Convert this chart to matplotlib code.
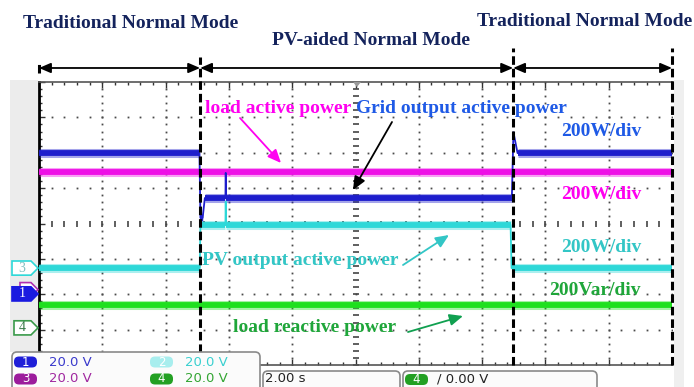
import numpy as np
import matplotlib
matplotlib.use("Agg")
import matplotlib.pyplot as plt
import matplotlib.transforms as mtransforms
from matplotlib.patches import FancyBboxPatch, Polygon, Rectangle

# ================================================================
# data (scope screen: 2.00 s/div, 10 x 8 div, values in div from bottom)
# ================================================================
mode_edges = [0.0, 5.09, 14.98, 20.0]
mode_names = ["Traditional Normal Mode", "PV-aided Normal Mode", "Traditional Normal Mode"]

grid_t = [0.0, 5.07, 5.10, 5.17, 5.24, 5.89, 5.90, 5.91, 14.94, 14.99, 15.12, 20.0]
grid_v = [5.99, 5.99, 4.16, 4.16, 4.72, 4.72, 5.43, 4.72, 4.72, 6.58, 5.99, 5.99]
load_t = [0.0, 20.0]
load_v = [5.46, 5.46]
pv_t = [0.0, 5.08, 5.10, 5.89, 5.90, 5.91, 14.90, 14.93, 20.0]
pv_v = [2.74, 2.74, 3.96, 3.96, 4.62, 3.96, 3.96, 2.74, 2.74]
react_t = [0.0, 20.0]
react_v = [1.70, 1.70]

marker_ch = ["3", "2", "1", "4"]
marker_v = [2.74, 2.13, 2.01, 1.05]

trace_names = ["load active power", "Grid output active power",
               "PV output active power", "load reactive power"]
scale_text = ["200W/div", "200W/div", "200W/div", "200Var/div"]

ch_names = ["1", "2", "3", "4"]
ch_volts = ["20.0 V", "20.0 V", "20.0 V", "20.0 V"]
timebase = "2.00 s"
trig_ch = "4"
trig_level = "0.00 V"

# ================================================================
# colours
# ================================================================
C_NAVY = "#14235c"
C_BLUE = "#1d1dcc"
C_BLUE_TX = "#1f5ae6"
C_MAG = "#ee10e6"
C_MAG_TX = "#ff00f0"
C_CYAN = "#2ed8d8"
C_CYAN_TX = "#33c6c6"
C_GREEN = "#1ee01e"
C_GREEN_TX = "#1fa63a"
C_DOT = "#4a4a4a"

SERIF = dict(family="Liberation Serif", fontweight="bold", fontsize=14)
NARROW = ["Liberation Sans Narrow", "DejaVu Sans"]

W, H = 694, 387
fig = plt.figure(figsize=(W / 100, H / 100), dpi=100)
fig.patch.set_facecolor("white")

# scope grid area (pixels 39..672 x 82..365)
ax = fig.add_axes([39 / W, (H - 365) / H, 633 / W, 283 / H], zorder=1)
ax.set_xlim(0, 20)
ax.set_ylim(0, 8)

# pixel overlay for all annotations
ov = fig.add_axes([0, 0, 1, 1], zorder=5)
ov.set_xlim(0, W)
ov.set_ylim(H, 0)
ov.axis("off")
ov.patch.set_alpha(0)

# ---- grid ----
yy = np.arange(0, 8.01, 0.2)
xx = np.arange(0, 20.01, 0.4)
for gx in [2, 4, 6, 8, 12, 14, 16, 18]:
    ax.plot(np.full(len(yy), gx), yy, ls="none", marker="s", ms=1.3, mew=0, color=C_DOT, zorder=1)
for gy in [1, 2, 3, 5, 6, 7]:
    ax.plot(xx, np.full(len(xx), gy), ls="none", marker="s", ms=1.3, mew=0, color=C_DOT, zorder=1)
ax.plot(np.full(len(yy), 10), yy, ls="none", marker="_", ms=4, mew=1.2, color="#444444", zorder=1)
ax.plot(xx, np.full(len(xx), 4), ls="none", marker="|", ms=4, mew=1.2, color="#444444", zorder=1)

ax.set_xticks(np.arange(0, 20.01, 2))
ax.set_xticks(xx, minor=True)
ax.set_yticks(np.arange(0, 8.01, 1))
ax.set_yticks(yy, minor=True)
ax.tick_params(which="both", direction="in", top=True, bottom=True, left=True, right=False,
               labelbottom=False, labelleft=False, color="#333333", width=1)
ax.tick_params(which="major", length=4)
ax.tick_params(which="minor", length=2.5)
ax.spines["right"].set_visible(False)
for s in ["top", "bottom"]:
    ax.spines[s].set_color("#555555")
    ax.spines[s].set_linewidth(1.2)
ax.spines["left"].set_color("black")
ax.spines["left"].set_linewidth(2)

# gray strip left of the screen and channel markers
ax.add_patch(Rectangle((10, 80), 28.5, 272, transform=ov.transData, clip_on=False,
                       color="#ececec", lw=0, zorder=0))
ax.add_patch(Rectangle((674, 80), 10, 307, transform=ov.transData, clip_on=False,
                       color="#efefef", lw=0, zorder=0))
mk_tr = mtransforms.blended_transform_factory(ov.transData, ax.transData)
mk_style = {
    "3": dict(fc="white", ec=C_CYAN, tc="#7fbfc0", x0=12),
    "2": dict(fc="white", ec="#b030b0", tc="#b030b0", x0=20),
    "1": dict(fc="#1a1ae0", ec="#1a1ae0", tc="white", x0=12),
    "4": dict(fc="white", ec="#3a9a4a", tc="#3a7a4a", x0=14),
}
h = 0.2
for ch, v in zip(marker_ch, marker_v):
    st = mk_style[ch]
    x0 = st["x0"]
    pts = [(x0, v - h), (31, v - h), (38, v), (31, v + h), (x0, v + h)]
    ax.add_patch(Polygon(pts, closed=True, transform=mk_tr, clip_on=False,
                         fc=st["fc"], ec=st["ec"], lw=1.2, zorder=3))
    if ch != "2":
        ax.text(22, v, ch, transform=mk_tr, ha="center", va="center", fontsize=10,
                color=st["tc"], family="Liberation Serif", clip_on=False, zorder=3)


# ---- traces ----
def draw_trace(t, v, color):
    ax.plot(t, v, color=color, lw=1.3, zorder=4)
    for i in range(len(t) - 1):
        if v[i] == v[i + 1]:
            ax.plot(t[i:i + 2], v[i:i + 2], color=color, lw=6.5, alpha=0.4,
                    solid_capstyle="butt", zorder=4)
            ax.plot(t[i:i + 2], v[i:i + 2], color=color, lw=4.2,
                    solid_capstyle="butt", zorder=4)


draw_trace(load_t, load_v, C_MAG)
draw_trace(grid_t, grid_v, C_BLUE)
draw_trace(pv_t, pv_v, C_CYAN)
draw_trace(react_t, react_v, C_GREEN)

# ---- mode boundaries and arrows ----
bt = mtransforms.blended_transform_factory(ax.transData, ax.transAxes)
tops = [1.071, 1.088, 1.120, 1.120]
bots = [1.032, 0.0, 0.0, 0.0]
for t, y1, y0 in zip(mode_edges, tops, bots):
    ax.plot([t, t], [y0, y1], transform=bt, clip_on=False, color="black", lw=2.2,
            dashes=(2.8, 1.3), zorder=6)
for t0, t1 in zip(mode_edges[:-1], mode_edges[1:]):
    ax.annotate("", xy=(t1, 1.0495), xytext=(t0, 1.0495), xycoords=bt, textcoords=bt,
                annotation_clip=False,
                arrowprops=dict(arrowstyle="<|-|>,head_length=0.7,head_width=0.3",
                                color="black", lw=1.3, shrinkA=0, shrinkB=0))

# mode titles
ov.text(131, 28, mode_names[0], ha="center", va="baseline", color=C_NAVY, **SERIF)
ov.text(371, 45, mode_names[1], ha="center", va="baseline", color=C_NAVY, **SERIF)
ov.text(585, 26, mode_names[2], ha="center", va="baseline", color=C_NAVY, **SERIF)

# trace labels
ov.text(205, 113, trace_names[0], ha="left", va="baseline", color=C_MAG_TX, **SERIF)
ov.text(356, 113, trace_names[1], ha="left", va="baseline", color=C_BLUE_TX, **SERIF)
ov.text(202, 265, trace_names[2], ha="left", va="baseline", color=C_CYAN_TX, **SERIF)
ov.text(233, 332, trace_names[3], ha="left", va="baseline", color=C_GREEN_TX, **SERIF)

ov.text(561, 136, scale_text[0], ha="left", va="baseline", color=C_BLUE_TX, **SERIF)
ov.text(561, 199, scale_text[1], ha="left", va="baseline", color=C_MAG_TX, **SERIF)
ov.text(561, 252, scale_text[2], ha="left", va="baseline", color=C_CYAN_TX, **SERIF)
ov.text(549, 295, scale_text[3], ha="left", va="baseline", color=C_GREEN_TX, **SERIF)

# label arrows
for tail, head, col in [((240, 118), (281, 163), C_MAG_TX),
                        ((392, 122), (353, 190), "black"),
                        ((403, 265), (449, 235), C_CYAN_TX),
                        ((408, 332), (463, 316), "#10a050")]:
    ov.annotate("", xy=head, xytext=tail,
                arrowprops=dict(arrowstyle="-|>,head_length=0.8,head_width=0.35",
                                color=col, lw=1.3, shrinkA=0, shrinkB=0))

# trigger position marker
ov.add_patch(Polygon([(353, 82), (361, 82), (357, 87)], closed=True, color="#9a9a9a", lw=0))

# ---- bottom readout panels ----
for x, y, w, hh in [(12, 352, 248, 45), (263, 371, 137, 30), (403, 371, 194, 30)]:
    ov.add_patch(FancyBboxPatch((x, y), w, hh, boxstyle="round,pad=0,rounding_size=5",
                                fc="#fbfbfb", ec="#8a8a8a", lw=1.2, zorder=2))

badge_col = ["#1f1fd8", "#a8eeee", "#9c1c9c", "#23a023"]
text_col = ["#3a3acc", "#3ad0d0", "#a028a0", "#33a533"]
badge_pos = [(14, 362), (150, 362), (14, 379), (150, 379)]
for ch, volts, bc, tc, (bx, by) in zip(ch_names, ch_volts, badge_col, text_col, badge_pos):
    ov.add_patch(FancyBboxPatch((bx, by - 5.5), 23, 11, boxstyle="round,pad=0,rounding_size=5",
                                fc=bc, ec="none", zorder=3))
    ov.text(bx + 11.5, by, ch, ha="center", va="center", color="white", fontsize=8.5,
            family=NARROW, zorder=4)
    ov.text(bx + 35, by, volts, ha="left", va="center", color=tc, fontsize=9.5,
            family=NARROW, zorder=4)

ov.text(265, 379, timebase, ha="left", va="center", color="#222222", fontsize=9.5,
        family=NARROW, zorder=4)
ov.add_patch(FancyBboxPatch((405, 374), 23, 11, boxstyle="round,pad=0,rounding_size=5",
                            fc="#23a023", ec="none", zorder=3))
ov.text(416.5, 379.5, trig_ch, ha="center", va="center", color="white", fontsize=8.5,
        family=NARROW, zorder=4)
ov.text(437, 379, "/ " + trig_level, ha="left", va="center", color="#222222", fontsize=9.5,
        family=NARROW, zorder=4)

fig.savefig("out.png", dpi=100, facecolor="white")
plt.close(fig)
